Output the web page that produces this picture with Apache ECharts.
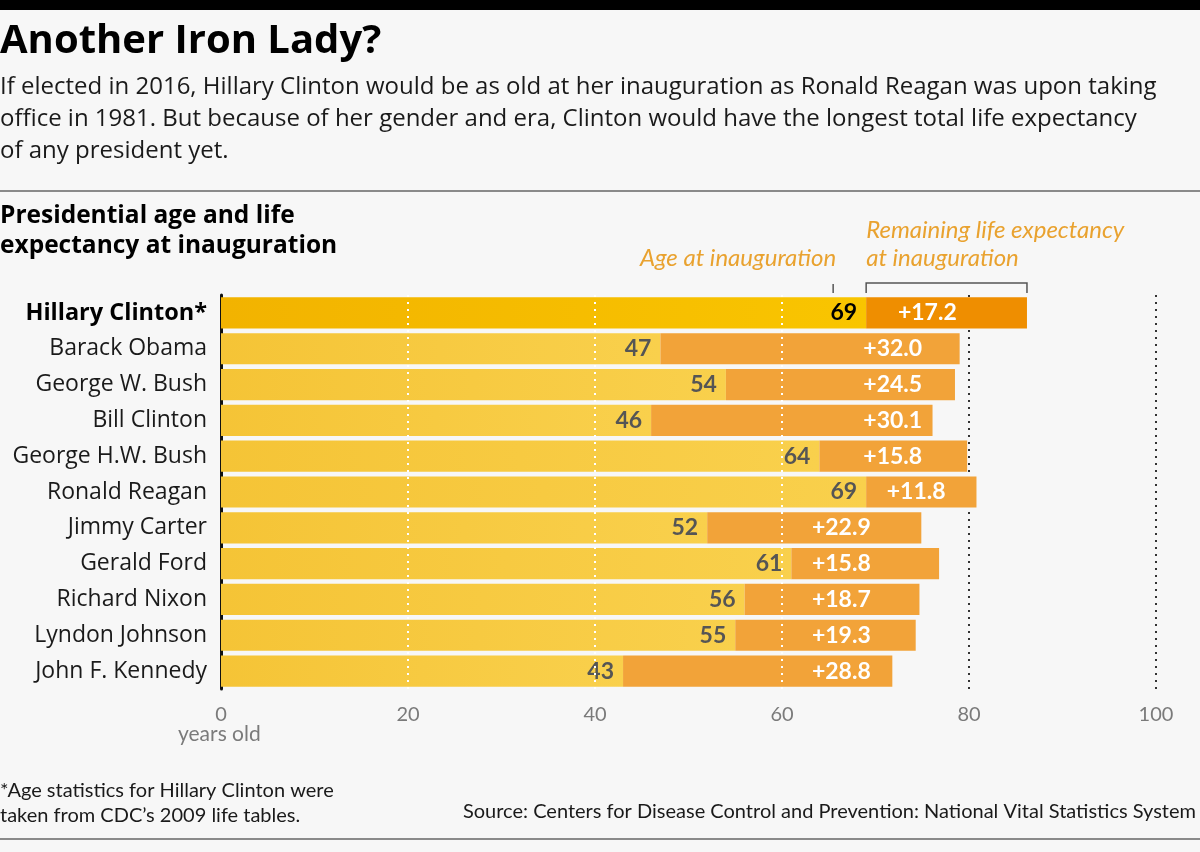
<!DOCTYPE html>
<html>
<head>
<meta charset="utf-8">
<title>Another Iron Lady?</title>
<script src="https://cdn.jsdelivr.net/npm/echarts@6/dist/echarts.min.js"></script>
<style>
  html, body { margin: 0; padding: 0; background: #f7f7f7; }
  #main { width: 1200px; height: 852px; }
</style>
</head>
<body>
<div id="main"></div>
<script>
var presidents = ['Hillary Clinton*', 'Barack Obama', 'George W. Bush', 'Bill Clinton', 'George H.W. Bush',
  'Ronald Reagan', 'Jimmy Carter', 'Gerald Ford', 'Richard Nixon', 'Lyndon Johnson', 'John F. Kennedy'];
var ageAtInauguration = [69, 47, 54, 46, 64, 69, 52, 61, 56, 55, 43];
var remainingYears = [17.2, 32.0, 24.5, 30.1, 15.8, 11.8, 22.9, 15.8, 18.7, 19.3, 28.8];
// where the "+x" label starts, in years
var labelStart = [72.4, 68.7, 68.7, 68.7, 68.7, 71.2, 63.2, 63.2, 63.2, 63.2, 63.2];
var xTicks = [0, 20, 40, 60, 80, 100];

var FONT = 'Lato';
var WIDE = '"Open Sans"';
var chart = echarts.init(document.getElementById('main'));

function grad(a, b) {
  return new echarts.graphic.LinearGradient(0, 0, 1, 0, [{offset: 0, color: a}, {offset: 1, color: b}]);
}

var ageData = ageAtInauguration.map(function (v, i) {
  var hc = i === 0;
  return {
    value: v,
    itemStyle: {color: hc ? grad('#f2b300', '#f9c500') : grad('#f5c436', '#f9d04c')},
    label: {color: hc ? '#000' : '#555'}
  };
});

var remData = remainingYears.map(function (v, i) {
  var pct = (labelStart[i] - ageAtInauguration[i]) / v * 100;
  return {
    value: v,
    itemStyle: {color: i === 0 ? '#ef8e00' : '#f2a339'},
    label: {position: [pct + '%', '50%']}
  };
});

var option = {
  backgroundColor: '#f7f7f7',
  animation: false,
  textStyle: {fontFamily: FONT},
  grid: {left: 221, right: 44, top: 295, bottom: 163},
  xAxis: {
    type: 'value',
    min: 0,
    max: 100,
    interval: 20,
    axisLine: {show: false},
    axisTick: {show: false},
    axisLabel: {color: '#7a7a7a', fontSize: 20, fontFamily: FONT, margin: 16},
    splitLine: {
      show: true,
      lineStyle: {
        color: ['rgba(0,0,0,0)', 'rgba(0,0,0,0)', 'rgba(0,0,0,0)', 'rgba(0,0,0,0)', '#333', '#333'],
        width: 2,
        type: [2, 5]
      }
    }
  },
  yAxis: {
    type: 'category',
    data: presidents,
    inverse: true,
    axisLine: {show: true, lineStyle: {color: '#111', width: 3}},
    axisTick: {show: false},
    axisLabel: {
      margin: 14,
      fontSize: 23,
      color: '#1a1a1a',
      fontFamily: WIDE,
      formatter: function (v) {
        return v === presidents[0] ? '{b|' + v + '}' : v;
      },
      rich: {b: {fontWeight: 'bold', fontSize: 23.5, color: '#000', fontFamily: WIDE}}
    }
  },
  series: [
    {
      name: 'Age at inauguration',
      type: 'bar',
      stack: 'life',
      barCategoryGap: '13%',
      data: ageData,
      label: {
        show: true,
        position: 'insideRight',
        distance: 9,
        fontSize: 23,
        fontWeight: 'bold',
        fontFamily: FONT
      },
      markLine: {
        silent: true,
        symbol: 'none',
        z: 10,
        label: {show: false},
        lineStyle: {color: '#fff', width: 2, type: [2, 5]},
        data: [{xAxis: 20}, {xAxis: 40}, {xAxis: 60}]
      }
    },
    {
      name: 'Remaining life expectancy',
      type: 'bar',
      stack: 'life',
      data: remData,
      label: {
        show: true,
        align: 'left',
        verticalAlign: 'middle',
        color: '#fff',
        fontSize: 23,
        fontWeight: 'bold',
        fontFamily: FONT,
        formatter: function (p) { return '+' + p.value.toFixed(1); }
      }
    }
  ],
  graphic: [
    {type: 'rect', left: 0, top: 0, shape: {width: 1200, height: 10}, style: {fill: '#000'}},
    {type: 'text', left: 0, top: 22, style: {text: 'Another Iron Lady?', font: 'bold 40px ' + WIDE, fill: '#000'}},
    {type: 'text', left: 0, top: 71, style: {
      text: 'If elected in 2016, Hillary Clinton would be as old at her inauguration as Ronald Reagan was upon taking\noffice in 1981. But because of her gender and era, Clinton would have the longest total life expectancy\nof any president yet.',
      font: '24px ' + WIDE, fill: '#1a1a1a', lineHeight: 32}},
    {type: 'rect', left: 0, top: 190, shape: {width: 1200, height: 2}, style: {fill: '#8a8a8a'}},
    {type: 'text', left: 0, top: 201, style: {
      text: 'Presidential age and life\nexpectancy at inauguration',
      font: 'bold 24.5px ' + WIDE, fill: '#000', lineHeight: 30}},
    {type: 'text', left: 178, top: 724, style: {text: 'years old', font: '21px ' + FONT, fill: '#7a7a7a'}},
    {type: 'text', left: 0, top: 778, style: {
      text: '*Age statistics for Hillary Clinton were\ntaken from CDC\u2019s 2009 life tables.',
      font: '20px ' + FONT, fill: '#1a1a1a', lineHeight: 25}},
    {type: 'text', right: 4, top: 802, style: {
      text: 'Source: Centers for Disease Control and Prevention: National Vital Statistics System',
      font: '20px ' + FONT, fill: '#1a1a1a'}},
    {type: 'rect', left: 0, top: 838, shape: {width: 1200, height: 2}, style: {fill: '#8a8a8a'}}
  ]
};

chart.setOption(option);

// annotation above Hillary Clinton's bar, tied to her values
var ageEnd = chart.convertToPixel({xAxisIndex: 0}, ageAtInauguration[0]);
var lifeEnd = chart.convertToPixel({xAxisIndex: 0}, ageAtInauguration[0] + remainingYears[0]);
chart.setOption({
  graphic: option.graphic.concat([
    {type: 'text', right: 1200 - ageEnd + 30, top: 246, style: {
      text: 'Age at inauguration', font: 'italic 24px ' + FONT, fill: '#e9a22f'}},
    {type: 'line', shape: {x1: ageEnd - 33, y1: 284, x2: ageEnd - 33, y2: 293}, style: {stroke: '#555', lineWidth: 1.5}},
    {type: 'text', left: ageEnd, top: 216, style: {
      text: 'Remaining life expectancy\nat inauguration', font: 'italic 24px ' + FONT, fill: '#e9a22f', lineHeight: 28}},
    {type: 'polyline', shape: {points: [[ageEnd, 293], [ageEnd, 283], [lifeEnd, 283], [lifeEnd, 293]]},
      style: {stroke: '#555', lineWidth: 1.5, fill: null}}
  ])
});
</script>
</body>
</html>
